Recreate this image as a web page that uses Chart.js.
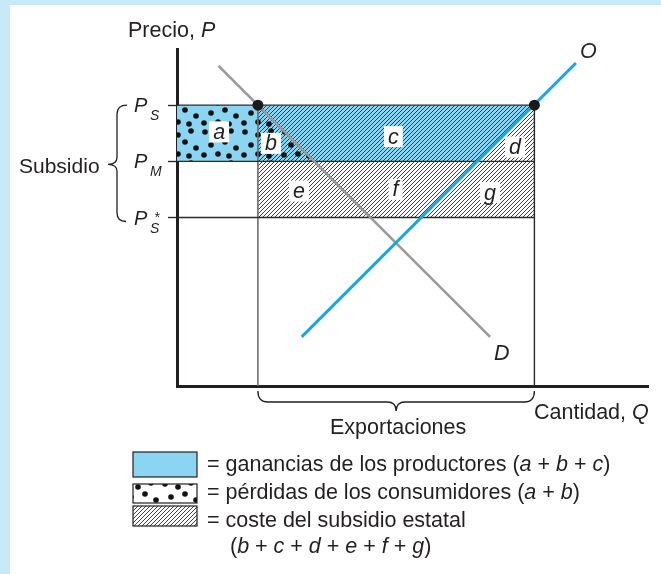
<!DOCTYPE html>
<html>
<head>
<meta charset="utf-8">
<script src="https://cdn.jsdelivr.net/npm/chart.js@4/dist/chart.umd.min.js"></script>
<style>
  html, body { margin: 0; padding: 0; background: #fff; }
  canvas { display: block; }
</style>
</head>
<body>
<canvas id="chart" width="661" height="574"></canvas>
<script>
// prices on the vertical axis: P_S*, P_M, P_S
const priceTicks = [6, 8, 10];
const priceSubs = ["S", "M", "S"];
const PS = 10, PM = 8, PSstar = 6;

// quantities at the subsidised price P_S
const Qd = 2.92;   // demanded
const Qs = 12.9;   // supplied

// demand D and supply O (end points)
const demandQ = [1.5, 11.3];
const demandP = [11.4, 1.75];
const supplyQ = [4.5, 14.4];
const supplyP = [1.75, 11.5];

// area letters and where they sit (q, p)
const regionLetters = ["a", "b", "c", "d", "e", "f", "g"];
const regionSpots = [[1.52, 9.05], [3.39, 8.64], [7.81, 8.88], [12.2, 8.51], [4.4, 6.94], [7.89, 7.0], [11.3, 6.89]];

const legendLines = [
  [["= ganancias de los productores (", 0], ["a", 1], [" + ", 0], ["b", 1], [" + ", 0], ["c", 1], [")", 0]],
  [["= pérdidas de los consumidores (", 0], ["a", 1], [" + ", 0], ["b", 1], [")", 0]],
  [["= coste del subsidio estatal", 0]],
  [["(", 0], ["b", 1], [" + ", 0], ["c", 1], [" + ", 0], ["d", 1], [" + ", 0], ["e", 1], [" + ", 0], ["f", 1], [" + ", 0], ["g", 1], [")", 0]]
];

const FONT = '"Liberation Sans", Arial, sans-serif';
const SIZE = 21.5;
const BLUE = "#8cd5f2";

// q on a straight line at price p
function qAt(qs, ps, p) {
  return qs[0] + (p - ps[0]) * (qs[1] - qs[0]) / (ps[1] - ps[0]);
}

function makeHatch() {
  const c = document.createElement("canvas");
  c.width = 4; c.height = 4;
  const g = c.getContext("2d");
  g.strokeStyle = "#2a2a2a";
  g.lineWidth = 0.9;
  g.beginPath();
  g.moveTo(-1, 5); g.lineTo(5, -1);
  g.moveTo(-1, 1); g.lineTo(1, -1);
  g.moveTo(3, 5); g.lineTo(5, 3);
  g.stroke();
  return g.createPattern(c, "repeat");
}

function makeDots() {
  const c = document.createElement("canvas");
  c.width = 40; c.height = 32;
  const g = c.getContext("2d");
  g.fillStyle = "#111";
  [[5, 4], [18, 7], [31, 3], [11, 17], [25, 14], [36, 20], [4, 27], [18, 26], [29, 28]].forEach(d => {
    g.beginPath(); g.arc(d[0], d[1], 2.8, 0, Math.PI * 2); g.fill();
  });
  return g.createPattern(c, "repeat");
}

const hatch = makeHatch();
const dots = makeDots();

const qDemandPM = qAt(demandQ, demandP, PM);
const qSupplyPM = qAt(supplyQ, supplyP, PM);

function runs(ctx, x, y, parts, size) {
  parts.forEach(p => {
    ctx.font = (p[1] ? "italic " : "") + size + "px " + FONT;
    ctx.fillText(p[0], x, y);
    x += ctx.measureText(p[0]).width;
  });
  return x;
}

const decor = {
  id: "decor",
  beforeDraw(chart) {
    const c = chart.ctx;
    c.save();
    c.fillStyle = "#c8eaf8";
    c.fillRect(0, 0, chart.width, chart.height);
    c.fillStyle = "#fff";
    c.fillRect(10, 5, chart.width - 10, chart.height - 5);
    c.restore();
  },
  afterDraw(chart) {
    const c = chart.ctx;
    const xs = chart.scales.x, ys = chart.scales.y;
    const X = v => xs.getPixelForValue(v), Y = v => ys.getPixelForValue(v);
    c.save();
    c.fillStyle = "#231f20";
    c.strokeStyle = "#231f20";
    c.textBaseline = "alphabetic";

    // axis titles
    runs(c, 128, 37, [["Precio, ", 0], ["P", 1]], SIZE);
    runs(c, 534, 419, [["Cantidad, ", 0], ["Q", 1]], SIZE);

    // price tick labels
    priceTicks.forEach((v, i) => {
      const y = Y(v);
      c.font = "italic 20px " + FONT;
      c.fillText("P", 134, y + 7);
      c.font = "italic 14px " + FONT;
      c.fillText(priceSubs[i], 150, y + 15);
      if (v === PSstar) c.fillText("*", 154, y + 4);
    });

    // curve names
    c.font = "italic " + SIZE + "px " + FONT;
    c.fillText("O", 580, 58);
    c.fillText("D", 494, 360);

    // area letters in white boxes
    c.textAlign = "center";
    regionLetters.forEach((l, i) => {
      const px = X(regionSpots[i][0]), py = Y(regionSpots[i][1]);
      const w = c.measureText(l).width + 8;
      c.fillStyle = "#fff";
      c.fillRect(px - w / 2, py - 10.5, w, 21);
      c.fillStyle = "#231f20";
      c.fillText(l, px, py + 7);
    });

    // subsidy brace
    c.lineWidth = 1.3;
    const yt = Y(PS), yb = Y(PSstar) + 4, ym = (yt + yb) / 2 + 1;
    c.beginPath();
    c.moveTo(127, yt);
    c.quadraticCurveTo(117, yt, 117, yt + 9);
    c.lineTo(117, ym - 7);
    c.quadraticCurveTo(117, ym, 108, ym);
    c.quadraticCurveTo(117, ym, 117, ym + 7);
    c.lineTo(117, yb - 9);
    c.quadraticCurveTo(117, yb, 126, yb);
    c.stroke();
    c.textAlign = "left";
    c.font = "21px " + FONT;
    c.fillText("Subsidio", 19, 173);

    // exports brace
    const xl = X(Qd), xr = X(Qs), xm = (xl + xr) / 2;
    c.beginPath();
    c.moveTo(xl, 391);
    c.quadraticCurveTo(xl, 402, xl + 10, 402);
    c.lineTo(xm - 9, 402);
    c.quadraticCurveTo(xm, 402, xm, 411);
    c.quadraticCurveTo(xm, 402, xm + 9, 402);
    c.lineTo(xr - 10, 402);
    c.quadraticCurveTo(xr, 402, xr, 391);
    c.stroke();
    c.textAlign = "center";
    c.font = SIZE + "px " + FONT;
    c.fillText("Exportaciones", xm + 2, 434);
    c.textAlign = "left";

    // key
    c.lineWidth = 1.2;
    c.fillStyle = BLUE;
    c.fillRect(133, 452, 64, 25);
    c.strokeRect(133, 452, 64, 25);
    c.fillStyle = "#fff";
    c.fillRect(133, 484, 64, 19);
    c.fillStyle = dots;
    c.fillRect(133, 484, 64, 19);
    c.strokeRect(133, 484, 64, 19);
    c.fillStyle = hatch;
    c.fillRect(133, 506, 64, 20);
    c.strokeRect(133, 506, 64, 20);
    c.fillStyle = "#231f20";
    runs(c, 207, 471, legendLines[0], SIZE);
    runs(c, 207, 499, legendLines[1], SIZE);
    runs(c, 207, 527, legendLines[2], SIZE);
    runs(c, 230, 553, legendLines[3], SIZE);
    c.restore();
  }
};

function seg(points, color, width, order) {
  return { data: points, showLine: true, borderColor: color, borderWidth: width,
           pointRadius: 0, fill: false, order: order };
}

const datasets = [
  // producers' gains a + b + c
  { data: [{x: 0, y: PS}, {x: Qs, y: PS}, {x: qSupplyPM, y: PM}, {x: 0, y: PM}],
    showLine: true, fill: "shape", backgroundColor: BLUE, borderWidth: 0, pointRadius: 0, order: 20 },
  // cost of the subsidy b..g
  { data: [{x: Qd, y: PS}, {x: Qs, y: PS}, {x: Qs, y: PSstar}, {x: Qd, y: PSstar}],
    showLine: true, fill: "shape", backgroundColor: hatch, borderWidth: 0, pointRadius: 0, order: 19 },
  // consumers' losses a + b
  { data: [{x: 0, y: PS}, {x: Qd, y: PS}, {x: qDemandPM, y: PM}, {x: 0, y: PM}],
    showLine: true, fill: "shape", backgroundColor: dots, borderWidth: 0, pointRadius: 0, order: 18 },
  seg([{x: 0, y: PS}, {x: Qs, y: PS}], "#2b2b2b", 1.3, 10),
  seg([{x: 0, y: PM}, {x: Qs, y: PM}], "#2b2b2b", 1.3, 10),
  seg([{x: 0, y: PSstar}, {x: Qs, y: PSstar}], "#2b2b2b", 1.3, 10),
  seg([{x: Qd, y: 0}, {x: Qd, y: PS}], "#6e6e6e", 1.6, 10),
  seg([{x: Qs, y: 0}, {x: Qs, y: PS}], "#2b2b2b", 1.4, 10),
  seg(demandQ.map((q, i) => ({x: q, y: demandP[i]})), "#9a9a9a", 2.6, 5),
  seg(supplyQ.map((q, i) => ({x: q, y: supplyP[i]})), "#1aa7e0", 3, 4),
  { data: [{x: Qd, y: PS}, {x: Qs, y: PS}], showLine: false, pointRadius: 5.5,
    pointBackgroundColor: "#1a1a1a", pointBorderWidth: 0, order: 1 }
];

new Chart(document.getElementById("chart"), {
  type: "scatter",
  data: { datasets: datasets },
  options: {
    responsive: false,
    animation: false,
    devicePixelRatio: 1,
    events: [],
    layout: { padding: { left: 168, top: 49, right: 13, bottom: 188 } },
    plugins: { legend: { display: false }, tooltip: { enabled: false } },
    scales: {
      x: {
        type: "linear", min: 0, max: 17,
        grid: { drawOnChartArea: false, drawTicks: false },
        border: { color: "#231f20", width: 3 },
        ticks: { display: false },
        afterFit: s => { s.height = 0; }
      },
      y: {
        type: "linear", min: 0, max: 12,
        afterBuildTicks: s => { s.ticks = priceTicks.map(v => ({ value: v })); },
        grid: { drawOnChartArea: false, drawTicks: true, tickLength: 9, tickColor: "#231f20", tickWidth: 1.3 },
        border: { color: "#231f20", width: 3 },
        ticks: { display: false },
        afterFit: s => { s.width = 9; }
      }
    }
  },
  plugins: [decor]
});
</script>
</body>
</html>
